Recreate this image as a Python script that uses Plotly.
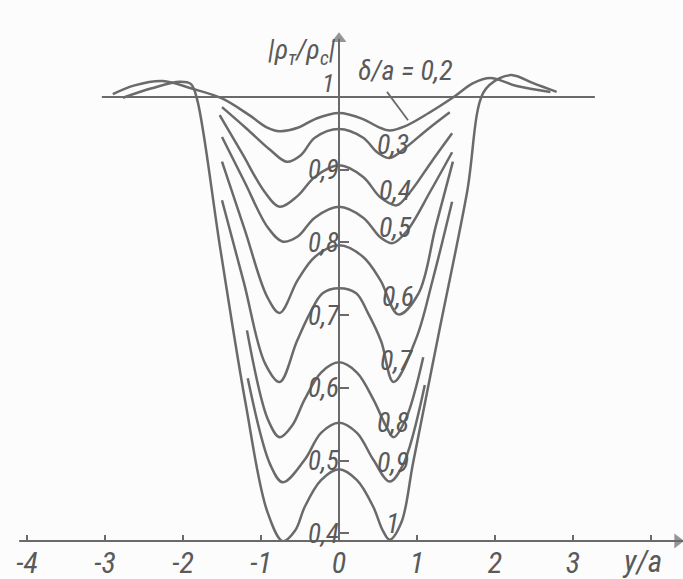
import plotly.graph_objects as go

# ---- data: family of curves |rho_t/rho_c| versus y/a for several delta/a ----
DELTA_LABELS = ["0,2", "0,3", "0,4", "0,5", "0,6", "0,7", "0,8", "0,9", "1"]

X_D02 = [-2.90, -2.62, -2.26, -1.90, -1.50, -1.15, -0.92, -0.76, -0.52, -0.30, 0.0,
         0.30, 0.50, 0.65, 0.85, 1.15, 1.47, 1.72, 1.94, 2.28, 2.71]
V_D02 = [1.004, 1.016, 1.022, 1.012, 0.998, 0.975, 0.958, 0.953, 0.958, 0.970, 0.978,
         0.970, 0.959, 0.954, 0.960, 0.978, 1.000, 1.019, 1.026, 1.015, 1.007]

X_D03 = [-1.50, -1.19, -0.88, -0.67, -0.49, -0.31, 0.0, 0.31, 0.49, 0.65, 0.85, 1.13, 1.42]
V_D03 = [0.986, 0.957, 0.927, 0.911, 0.920, 0.944, 0.956, 0.944, 0.924, 0.916, 0.930, 0.955, 0.979]

X_D04 = [-1.53, -1.24, -0.95, -0.76, -0.53, -0.31, 0.0, 0.31, 0.53, 0.74, 0.91, 1.18, 1.45]
V_D04 = [0.975, 0.922, 0.869, 0.849, 0.864, 0.890, 0.906, 0.890, 0.862, 0.851, 0.869, 0.910, 0.950]

X_D05 = [-1.50, -1.21, -0.91, -0.72, -0.53, -0.31, 0.0, 0.31, 0.53, 0.69, 0.88, 1.17, 1.45]
V_D05 = [0.945, 0.883, 0.820, 0.801, 0.808, 0.834, 0.849, 0.834, 0.807, 0.799, 0.817, 0.870, 0.924]

X_D06 = [-1.50, -1.21, -0.92, -0.76, -0.53, -0.31, 0.0, 0.31, 0.53, 0.76, 1.02, 1.24, 1.46]
V_D06 = [0.911, 0.818, 0.725, 0.703, 0.748, 0.780, 0.796, 0.780, 0.748, 0.701, 0.730, 0.822, 0.911]

X_D07 = [-1.50, -1.22, -0.95, -0.76, -0.54, -0.37, -0.21, 0.0, 0.22, 0.37, 0.54, 0.70, 0.99, 1.20, 1.45]
V_D07 = [0.858, 0.745, 0.634, 0.608, 0.664, 0.703, 0.730, 0.737, 0.730, 0.703, 0.664, 0.608, 0.668, 0.748, 0.856]

X_D08 = [-1.18, -0.91, -0.76, -0.60, -0.44, -0.23, 0.0, 0.23, 0.44, 0.60, 0.70, 0.86, 1.08]
V_D08 = [0.679, 0.556, 0.532, 0.548, 0.584, 0.621, 0.635, 0.621, 0.584, 0.548, 0.532, 0.558, 0.642]

X_D09 = [-1.17, -0.88, -0.72, -0.44, -0.23, 0.0, 0.23, 0.44, 0.65, 0.82, 1.10]
V_D09 = [0.613, 0.494, 0.470, 0.501, 0.538, 0.552, 0.538, 0.501, 0.471, 0.494, 0.604]

X_D10 = [-2.77, -2.40, -2.04, -1.90, -1.82, -1.52, -1.20, -0.92, -0.72, -0.56, -0.44, -0.23, 0.0,
         0.23, 0.44, 0.56, 0.65, 0.80, 0.95, 1.27, 1.64, 1.85, 2.06, 2.23, 2.49, 2.79]
V_D10 = [0.999, 1.012, 1.021, 1.018, 0.997, 0.790, 0.580, 0.430, 0.389, 0.404, 0.436, 0.473, 0.488,
         0.473, 0.436, 0.404, 0.391, 0.415, 0.497, 0.670, 0.868, 1.006, 1.026, 1.030, 1.019, 1.007]

CURVES = [(X_D02, V_D02), (X_D03, V_D03), (X_D04, V_D04), (X_D05, V_D05), (X_D06, V_D06),
          (X_D07, V_D07), (X_D08, V_D08), (X_D09, V_D09), (X_D10, V_D10)]

UNIT_LINE_X = [-3.04, 3.28]
UNIT_LINE_V = [1.0, 1.0]

X_TICKS = [-4, -3, -2, -1, 0, 1, 2, 3, 4]
X_TICK_TEXT = ["-4", "-3", "-2", "-1", "0", "1", "2", "3", ""]
Y_TICKS = [0.4, 0.5, 0.6, 0.7, 0.8, 0.9]
Y_TICK_TEXT = ["0,4", "0,5", "0,6", "0,7", "0,8", "0,9"]

# ---- styling / layout ----
FONT = ("Liberation Sans Narrow, Roboto Condensed, DejaVu Sans Condensed, "
        "Arial Narrow, Liberation Sans, sans-serif")
INK = "#6a6a6a"
TXT = "#5a5a5a"
BG = "#fcfcfc"
X_RANGE = [-4.346, 4.410]
Y_RANGE = [0.3879, 1.1334]
Y_AXIS_POS = (0 - X_RANGE[0]) / (X_RANGE[1] - X_RANGE[0])
X_AXIS_START = -4.10
Y_AXIS_TOP = 1.080


def ifont(size):
    return dict(family=FONT, size=size, color=TXT, style="italic")


fig = go.Figure()

# axis lines with arrowheads
fig.add_trace(go.Scatter(x=[X_AXIS_START, X_RANGE[1]], y=[Y_RANGE[0], Y_RANGE[0]], mode="lines",
                         line=dict(color=INK, width=4), hoverinfo="skip", showlegend=False))
fig.add_trace(go.Scatter(x=[0, 0], y=[Y_RANGE[0], Y_AXIS_TOP], mode="lines",
                         line=dict(color=INK, width=2), hoverinfo="skip", showlegend=False))
fig.add_trace(go.Scatter(x=[X_RANGE[1] - 0.07], y=[Y_RANGE[0] + 0.0015], mode="markers",
                         marker=dict(symbol="triangle-right", size=[13], color=INK,
                                     line=dict(width=0)),
                         cliponaxis=False, hoverinfo="skip", showlegend=False))
fig.add_trace(go.Scatter(x=[0], y=[Y_AXIS_TOP], mode="markers",
                         marker=dict(symbol="triangle-up", size=[13], color=INK,
                                     line=dict(width=0)),
                         cliponaxis=False, hoverinfo="skip", showlegend=False))

fig.add_trace(go.Scatter(x=UNIT_LINE_X, y=UNIT_LINE_V, mode="lines",
                         line=dict(color=INK, width=2), hoverinfo="skip", showlegend=False))

for xs, vs in CURVES:
    fig.add_trace(go.Scatter(x=xs, y=vs, mode="lines",
                             line=dict(color=INK, width=2.5, shape="spline", smoothing=1.0),
                             hoverinfo="skip", showlegend=False))

# curve labels (delta/a), placed in the dips on the right
label_pos = [(0.85, 1.036), (0.69, 0.934), (0.72, 0.872), (0.72, 0.821), (0.76, 0.725),
             (0.74, 0.638), (0.69, 0.552), (0.69, 0.497), (0.69, 0.414)]
for i, (lab, (lx, ly)) in enumerate(zip(DELTA_LABELS, label_pos)):
    text = "δ/a = " + lab if i == 0 else lab
    fig.add_annotation(x=lx, y=ly, xref="x", yref="y", text=text, showarrow=False,
                       font=ifont(28))

# leader from the first label to its curve
fig.add_shape(type="line", xref="x", yref="y", x0=0.615, y0=1.007, x1=0.885, y1=0.968,
              line=dict(color=INK, width=1.8))

# "1" on the vertical axis, axis titles
fig.add_annotation(x=-0.14, y=1.019, xref="x", yref="y", text="1", showarrow=False, font=ifont(26))
fig.add_annotation(x=-0.47, y=1.063, xref="x", yref="y",
                   text="|ρ<sub>т</sub>/ρ<sub>с</sub>|", showarrow=False, font=ifont(28))
fig.add_annotation(x=3.88, y=-0.036, xref="x", yref="paper", yanchor="middle", text="y/a",
                   showarrow=False, font=ifont(31))

fig.update_layout(
    width=683, height=579,
    margin=dict(l=0, r=0, t=0, b=37),
    paper_bgcolor=BG, plot_bgcolor=BG,
    xaxis=dict(range=X_RANGE, domain=[0, 1], automargin=False, showgrid=False, zeroline=False,
               showline=False, tickmode="array", tickvals=X_TICKS, ticktext=X_TICK_TEXT,
               ticks="inside", ticklen=7, tickwidth=1.5, tickcolor=INK, tickfont=ifont(30),
               fixedrange=True),
    yaxis=dict(range=Y_RANGE, anchor="free", position=Y_AXIS_POS, automargin=False,
               showgrid=False, zeroline=False, showline=False, tickmode="array",
               tickvals=Y_TICKS, ticktext=Y_TICK_TEXT, ticks="inside", ticklen=9,
               tickwidth=1.5, tickcolor=INK, tickfont=ifont(27), fixedrange=True),
)

fig.write_html("out.html")
